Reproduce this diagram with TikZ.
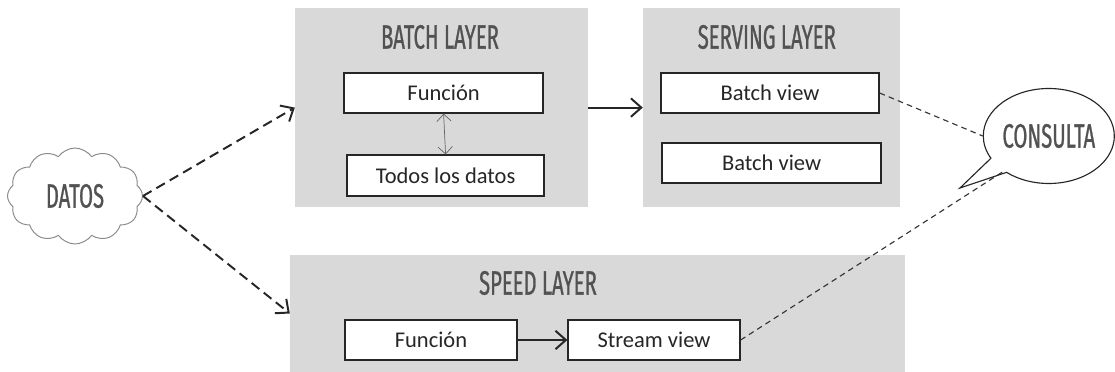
\documentclass[tikz,border=0pt]{standalone}
\usepackage{fontspec}
\setmainfont{Carlito}
\newfontfamily\titlefont[FakeStretch=0.6, FakeBold=0.8]{Fira Sans}
\usepackage{tikz}
\usetikzlibrary{arrows}
\usetikzlibrary{arrows.meta}
\usetikzlibrary{shapes.symbols}
\usetikzlibrary{shapes.callouts}

\tikzset{
    layer style/.style={rectangle, fill=black!15, inner sep=0pt},
    view style/.style={rectangle, draw=black!85, line width=0.9pt, fill=white,
        minimum height=1cm, inner sep=0pt, font=\fontsize{16}{18}\selectfont, text=black!85},
    title style/.style={font=\titlefont\fontsize{24}{26}\selectfont, text=black!68},
    flow style/.style={line width=1.4pt, black!85, -{Straight Barb[length=2.6mm, width=4.6mm]}},
    feed style/.style={line width=1.4pt, black!85, -{Straight Barb[length=2.6mm, width=4.6mm]},
        dash pattern=on 7pt off 4pt},
    query style/.style={line width=0.8pt, black!80, dash pattern=on 4pt off 3pt}
}

\begin{document}
\begin{tikzpicture}
            \useasboundingbox (0,0) rectangle (27.875,9.3);

            \node[layer style, minimum width=7.325cm, minimum height=4.975cm] (batch) at (11.04,6.61) {};
            \node[title style] (batchtitle) at (11.0,8.375) {BATCH LAYER};
            \node[view style, minimum width=4.975cm] (bfuncion) at (11.09,6.975) {Función};
            \node[view style, minimum width=4.925cm, minimum height=1.025cm] (todos) at (11.14,4.91) {Todos los datos};

            \node[layer style, minimum width=6.425cm, minimum height=4.975cm] (serving) at (19.29,6.61) {};
            \node[title style] (servingtitle) at (19.17,8.375) {SERVING LAYER};
            \node[view style, minimum width=5.45cm] (bview) at (19.25,6.975) {Batch view};
            \node[view style, minimum width=5.475cm] (bviewb) at (19.29,5.225) {Batch view};

            \node[layer style, minimum width=15.375cm, minimum height=2.925cm] (speed) at (14.94,1.4625) {};
            \node[title style] (speedtitle) at (13.45,2.225) {SPEED LAYER};
            \node[view style, minimum width=4.3cm] (sfuncion) at (10.775,0.8) {Función};
            \node[view style, minimum width=4.3cm] (stream) at (16.35,0.8) {Stream view};

            \node[cloud, cloud puffs=12, cloud puff arc=110, aspect=1.6, draw=black!45, line width=0.7pt,
                fill=white, minimum width=3.375cm, minimum height=2.4cm, title style] (datos) at (1.875,4.4) {DATOS};

            \draw[feed style] (datos.east) -- (batch.west);
            \draw[feed style] (datos.east) -- (speed.west);
            \draw[flow style] (batch.east) -- (serving.west);
            \draw[flow style] (sfuncion.east) -- (stream.west);
            \draw[black!60, line width=0.5pt, {Straight Barb[length=1.8mm, width=3.6mm]}-{Straight Barb[length=1.8mm, width=3.6mm]}]
                (bfuncion.south) -- (todos.north);

            \node[ellipse callout, draw=black!85, line width=0.8pt, fill=white, callout pointer arc=22,
                minimum width=3.2cm, minimum height=2.375cm, inner sep=0pt,
                callout absolute pointer={(24.0,4.6)}, title style] (consulta) at (26.22,5.9) {CONSULTA};

            \draw[query style] (bview.east) -- (consulta.west);
            \draw[query style] (stream.east) -- (consulta.218);
\end{tikzpicture}
\end{document}
